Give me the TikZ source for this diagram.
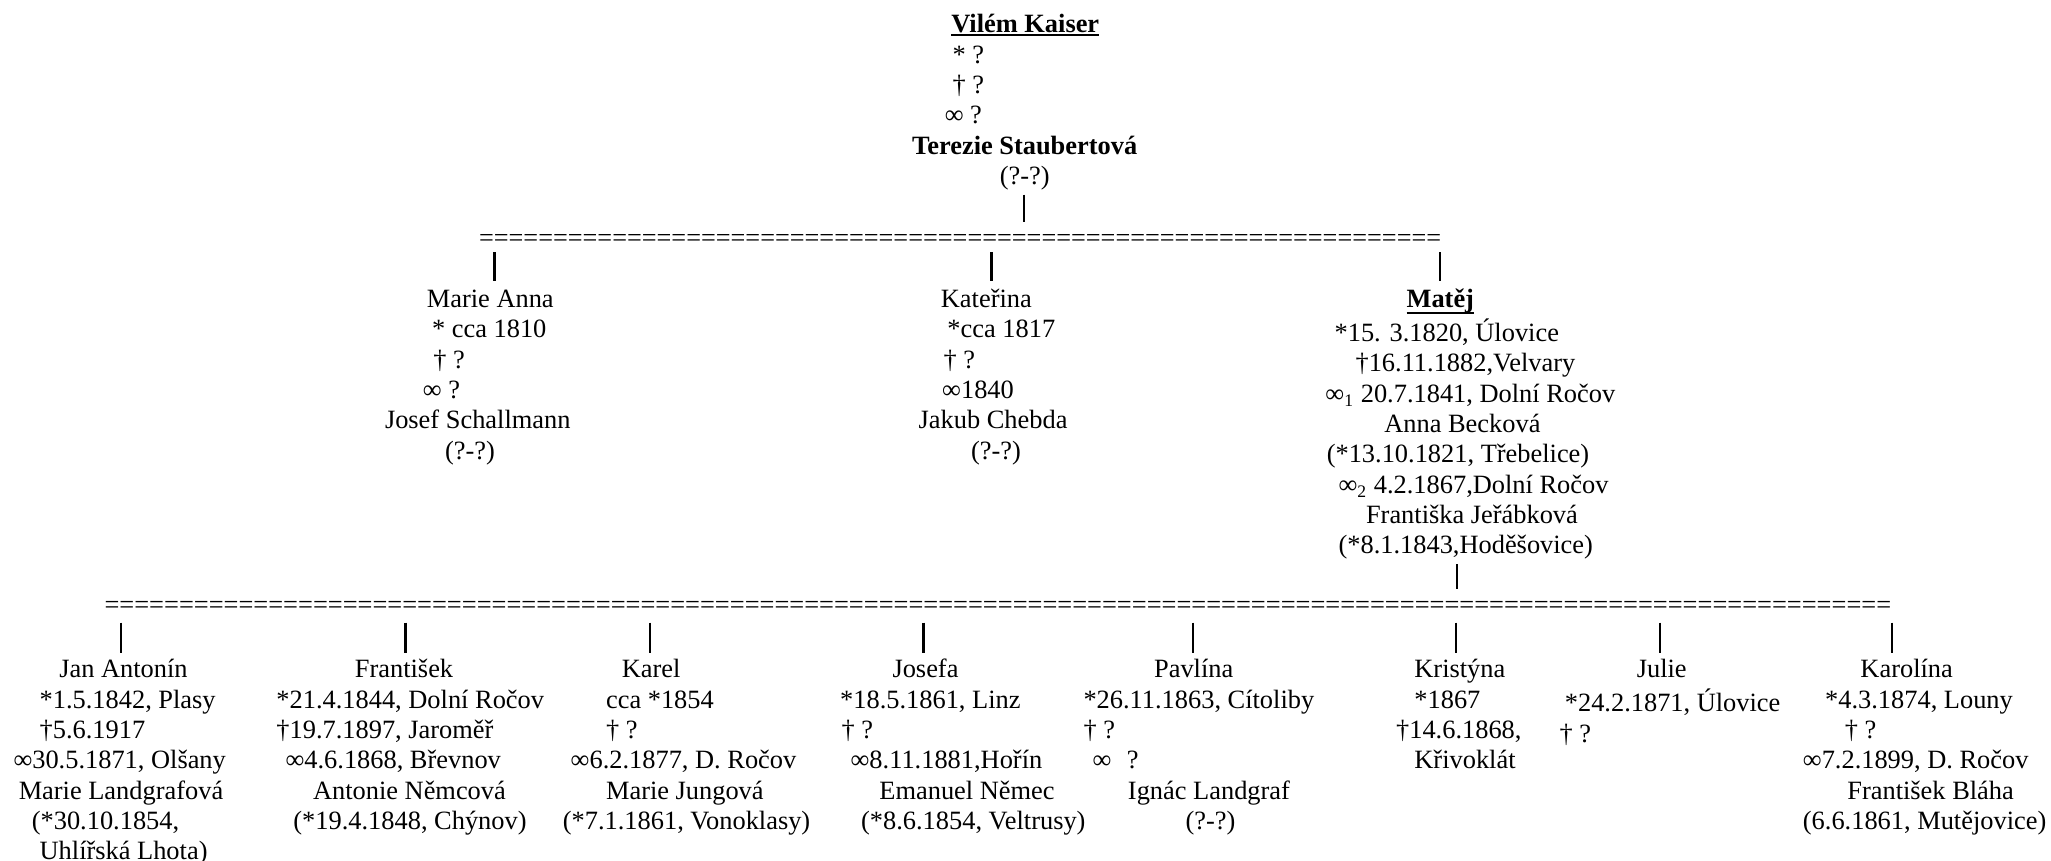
\documentclass[tikz,border=0pt]{standalone}
\usepackage{fontspec}
\setmainfont{Liberation Serif}
\usepackage{tikz}

\newlength\pxu
\setlength\pxu{0.5946pt}
\newcommand\ind[1]{\hspace*{#1\pxu}}
\newsavebox\namebox
% bold name with a thick underline at a given depth
\newcommand\ulname[2]{\sbox\namebox{\textbf{#2}}\rlap{\rule[-#1]{\wd\namebox}{0.9pt}}\usebox\namebox}

\begin{document}
\begin{tikzpicture}[x=0.5946pt,y=-0.5946pt,
    person/.style={align=left,anchor=north west,inner sep=0pt,font=\fontsize{12}{13.8}\selectfont},
    eqrow/.style={anchor=base west,inner sep=0pt,font=\fontsize{12}{13.8}\selectfont},
    bar/.style={line width=1pt}]
    \useasboundingbox (0,0) rectangle (1568,658);
    \fill[white] (0,0) rectangle (1568,658);

    % parents
    \node[person] (vilem) at (697,8.5) {\ind{30}\strut\ulname{1.6pt}{Vilém Kaiser}\\
        \ind{31}* ?\\
        \ind{31}† ?\\
        \ind{25}∞ ?\\
        \textbf{Terezie Staubertová}\\
        \ind{67}(?-?)};
    \node[eqrow,font=\fontsize{11.93}{13.8}\selectfont] (row1) at (365.9,188.3) {\foreach \i in {1,...,65}{=}};
    \draw[bar,shorten >=10.9pt] (783,0 |- vilem.south) ++(0,3) -- (783,0 |- row1.base);

    % second generation
    \node[person] (marie) at (294,218.5) {\ind{32}\strut Marie Anna\\
        \ind{36}* cca 1810\\
        \ind{37}† ?\\
        \ind{29}∞ ?\\
        Josef Schallmann\\
        \ind{46}(?-?)};
    \node[person] (katerina) at (702,218.5) {\ind{17}\strut Kateřina\\
        \ind{22}*cca 1817\\
        \ind{19}† ?\\
        \ind{18}∞1840\\
        Jakub Chebda\\
        \ind{40}(?-?)};
    \node[person] (matej) at (1013,218.5) {\ind{62}\strut\ulname{2.9pt}{Matěj}\\
        \ind{7}*15. 3.1820, Úlovice\\
        \ind{23}†16.11.1882,Velvary\\
        ∞\textsubscript{1} 20.7.1841, Dolní Ročov\\
        \ind{45}Anna Becková\\
        \ind{1}(*13.10.1821, Třebelice)\\
        \ind{10}∞\textsubscript{2} 4.2.1867,Dolní Ročov\\
        \ind{31}Františka Jeřábková\\
        \ind{10}(*8.1.1843,Hoděšovice)};
    \foreach \x/\n in {378/marie,758/katerina,1101/matej}
        \draw[bar,shorten >=2.1pt] (\x,0 |- row1.base) ++(0,4.7) -- (\x,0 |- \n.north);

    % children of Matej
    \node[eqrow] (row2) at (79.6,469.3) {\foreach \i in {1,...,120}{=}};
    \draw[bar,shorten >=11.5pt] (1114,0 |- matej.south) ++(0,3.4) -- (1114,0 |- row2.base);

    \node[person] (jan) at (10,501.5) {\ind{35}\strut Jan Antonín\\
        \ind{20}*1.5.1842, Plasy\\
        \ind{20}†5.6.1917\\
        ∞30.5.1871, Olšany\\
        \ind{4}Marie Landgrafová\\
        \ind{14}(*30.10.1854,\\
        \ind{20}Uhlířská Lhota)};
    \node[person] (frantisek) at (211,501.5) {\ind{60}\strut František\\
        *21.4.1844, Dolní Ročov\\
        †19.7.1897, Jaroměř\\
        \ind{7}∞4.6.1868, Břevnov\\
        \ind{28}Antonie Němcová\\
        \ind{13}(*19.4.1848, Chýnov)};
    \node[person] (karel) at (430,501.5) {\ind{45}\strut Karel\\
        \ind{33}cca *1854\\
        \ind{33}† ?\\
        \ind{6}∞6.2.1877, D. Ročov\\
        \ind{33}Marie Jungová\\
        (*7.1.1861, Vonoklasy)};
    \node[person] (josefa) at (642,501.5) {\ind{40}\strut Josefa\\
        *18.5.1861, Linz\\
        \ind{1}† ?\\
        \ind{8}∞8.11.1881,Hořín\\
        \ind{30}Emanuel Němec\\
        \ind{16}(*8.6.1854, Veltrusy)};
    \node[person] (pavlina) at (828,501.5) {\ind{54}\strut Pavlína\\
        *26.11.1863, Cítoliby\\
        † ?\\
        \ind{7}∞\hspace{7pt}?\\
        \ind{34}Ignác Landgraf\\
        \ind{78}(?-?)};
    \node[person] (kristyna) at (1067,501.5) {\ind{14}\strut Kristýna\\
        \ind{14}*1867\\
        †14.6.1868,\\
        \ind{14}Křivoklát};
    \node[person] (julie) at (1192,501.5) {\ind{59}\strut Julie\\
        \ind{4}*24.2.1871, Úlovice\\
        † ?};
    \node[person] (karolina) at (1378,501.5) {\ind{44}\strut Karolína\\
        \ind{17}*4.3.1874, Louny\\
        \ind{32}† ?\\
        ∞7.2.1899, D. Ročov\\
        \ind{34}František Bláha\\
        (6.6.1861, Mutějovice)};
    \foreach \x/\n in {92.5/jan,310/frantisek,497/karel,706/josefa,912/pavlina,1113/kristyna,1269/julie,1446.6/karolina}
        \draw[bar,shorten >=1.5pt] (\x,0 |- row2.base) ++(0,6.7) -- (\x,0 |- \n.north);
\end{tikzpicture}
\end{document}
